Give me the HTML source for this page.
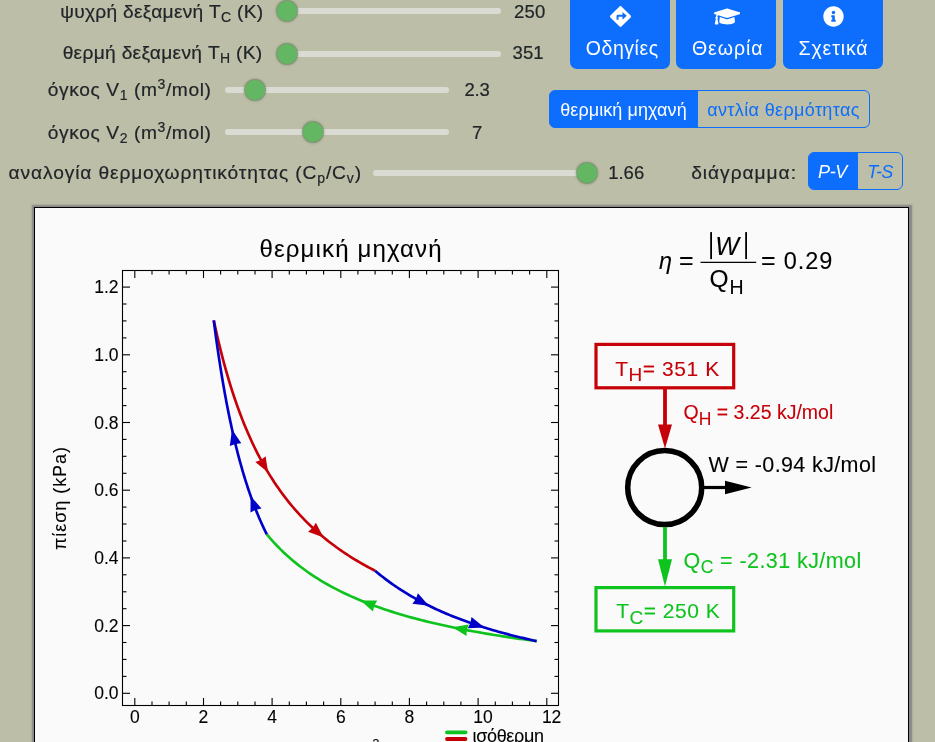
<!DOCTYPE html>
<html><head><meta charset="utf-8">
<style>
html,body{margin:0;padding:0;}
body{width:935px;height:742px;overflow:hidden;background:#bcbea7;font-family:"Liberation Sans",sans-serif;color:#212529;position:relative;}
.lbl{position:absolute;font-size:19.2px;line-height:24px;white-space:nowrap;text-align:right;}
.lbl sub{font-size:14px;vertical-align:baseline;position:relative;top:4px;}
.lbl sup{font-size:14px;vertical-align:baseline;position:relative;top:-7px;}
.lbl,.val{-webkit-text-stroke:0.2px #212529;}
.val{position:absolute;font-size:18.5px;line-height:24px;white-space:nowrap;}
.track{position:absolute;height:6px;border-radius:3px;background:#dadcd3;}
.thumb{position:absolute;width:20px;height:20px;border-radius:50%;background:#64b762;box-shadow:0 0 0 1px rgba(105,140,98,.6),0 0 2px 1.5px rgba(100,115,90,.35);}
.btn{position:absolute;background:#0d6efd;color:#fff;border-radius:7px;text-align:center;font-size:19.5px;}
.btn span{position:absolute;left:0;right:0;top:47.5px;line-height:24px;white-space:nowrap;}
.btn svg{position:absolute;}
.tg{position:absolute;box-sizing:border-box;border:1px solid #0d6efd;font-size:18px;text-align:center;white-space:nowrap;}
.tg.on{background:#0d6efd;color:#fff;}
.tg.off{color:#0d6efd;background:transparent;}
#cv{position:absolute;left:34px;top:207px;width:873px;height:560px;background:#fafafa;border:1px solid #000;box-shadow:.5px .5px 0 2.1px #898987,.5px .5px 2px 2.7px rgba(134,134,132,.8);}
svg text{font-family:"Liberation Sans",sans-serif;stroke-width:.1px;}
svg text[fill="#000"],svg g[fill="#000"] text{stroke:#000;}
svg text[fill="#c60008"]{stroke:#c60008;}
svg text[fill="#0fc31e"]{stroke:#0fc31e;}
#wrap{position:absolute;left:0;top:0;width:935px;height:742px;will-change:transform;}
</style></head><body><div id="wrap">
<div class="lbl" style="right:671.5px;top:-0.5px;letter-spacing:0.27px;">ψυχρή δεξαμενή T<sub>C</sub> (K)</div><div class="track" style="left:277px;top:8px;width:224px;"></div><div class="thumb" style="left:277.2px;top:1px;"></div><div class="val" style="left:514px;top:0px;letter-spacing:0.2px;">250</div><div class="lbl" style="right:672.5px;top:41px;letter-spacing:0.3px;">θερμή δεξαμενή T<sub>H</sub> (K)</div><div class="track" style="left:277px;top:50.5px;width:224px;"></div><div class="thumb" style="left:277.2px;top:43.5px;"></div><div class="val" style="left:512.6px;top:41px;letter-spacing:0.0px;">351</div><div class="lbl" style="right:723.5px;top:78px;letter-spacing:0.59px;">όγκος V<sub>1</sub> (m<sup>3</sup>/mol)</div><div class="track" style="left:224.5px;top:87px;width:224.0px;"></div><div class="thumb" style="left:245px;top:80px;"></div><div class="val" style="left:464.6px;top:78px;letter-spacing:-0.3px;">2.3</div><div class="lbl" style="right:723.5px;top:120.5px;letter-spacing:0.59px;">όγκος V<sub>2</sub> (m<sup>3</sup>/mol)</div><div class="track" style="left:224.5px;top:129px;width:224.0px;"></div><div class="thumb" style="left:303px;top:122px;"></div><div class="val" style="left:472px;top:120.5px;letter-spacing:0.0px;">7</div><div class="lbl" style="right:573px;top:160.5px;letter-spacing:0.87px;">αναλογία θερμοχωρητικότητας (C<sub>p</sub>/C<sub>v</sub>)</div><div class="track" style="left:373px;top:169.7px;width:225px;"></div><div class="thumb" style="left:576.5px;top:162.7px;"></div><div class="val" style="left:608.2px;top:160.5px;letter-spacing:0.0px;">1.66</div><div class="val" style="left:691.2px;top:160.5px;font-size:19.2px;letter-spacing:0.96px;">διάγραμμα:</div>

<div class="btn" style="left:570px;top:-12px;width:100px;height:81px;">
 <svg style="left:39.9px;top:18.1px" width="21" height="21" viewBox="0 0 512 512"><path fill="#fff" d="M502.610 233.320L278.680 9.390c-12.520-12.520-32.830-12.520-45.360 0L9.390 233.320c-12.520 12.530-12.520 32.830 0 45.360l223.930 223.930c12.520 12.530 32.830 12.530 45.360 0l223.930-223.930c12.520-12.530 12.520-32.830 0-45.360zm-100.980 12.560l-84.210 77.730c-5.120 4.730-13.430 1.100-13.430-5.880V264h-96v64c0 4.420-3.580 8-8 8h-32c-4.420 0-8-3.580-8-8v-80c0-17.670 14.330-32 32-32h112v-53.730c0-6.970 8.300-10.610 13.430-5.880l84.210 77.730c3.430 3.170 3.430 8.590 0 11.760z"/></svg>
 <span style="letter-spacing:0.55px;padding-left:4.5px">Οδηγίες</span></div>
<div class="btn" style="left:676px;top:-12px;width:100px;height:81px;">
 <svg style="left:37.6px;top:18.1px" width="26.25" height="21" viewBox="0 0 640 512"><path fill="#fff" d="M622.340 153.200L343.400 67.500c-15.200-4.670-31.590-4.670-46.790 0L17.660 153.200c-23.540 7.230-23.540 38.360 0 45.590l48.630 14.940c-10.670 13.190-17.230 29.280-17.880 46.900C38.780 266.150 32 276.110 32 288c0 10.780 5.680 19.850 13.860 25.650L20.330 428.530C18.110 438.520 25.710 448 35.940 448h56.110c10.240 0 17.840-9.480 15.620-19.470L82.140 313.650C90.320 307.850 96 298.780 96 288c0-11.570-6.470-21.250-15.660-26.870.76-15.020 8.440-28.300 20.690-36.720L296.600 284.500c9.060 2.780 26.440 6.250 46.790 0l278.950-85.700c23.550-7.240 23.550-38.360 0-45.600zM352.790 315.090c-28.530 8.760-52.840 3.920-65.590 0l-145.020-44.550L128 384c0 35.350 85.960 64 192 64s192-28.650 192-64l-14.180-113.470-145.030 44.560z"/></svg>
 <span style="letter-spacing:0.95px;padding-left:3.5px">Θεωρία</span></div>
<div class="btn" style="left:783px;top:-12px;width:100px;height:81px;">
 <svg style="left:39.5px;top:17.9px" width="21" height="21" viewBox="0 0 512 512"><path fill="#fff" d="M256 8C119.043 8 8 119.083 8 256c0 136.997 111.043 248 248 248s248-111.003 248-248C504 119.083 392.957 8 256 8zm0 110c23.196 0 42 18.804 42 42s-18.804 42-42 42-42-18.804-42-42 18.804-42 42-42zm56 254c0 6.627-5.373 12-12 12h-88c-6.627 0-12-5.373-12-12v-24c0-6.627 5.373-12 12-12h12v-64h-12c-6.627 0-12-5.373-12-12v-24c0-6.627 5.373-12 12-12h64c6.627 0 12 5.373 12 12v100h12c6.627 0 12 5.373 12 12v24z"/></svg>
 <span style="letter-spacing:0.85px;padding-left:1px">Σχετικά</span></div>

<div class="tg on" style="left:549px;top:90px;width:149px;height:38px;line-height:38.5px;border-radius:6px 0 0 6px;letter-spacing:0.08px;">θερμική μηχανή</div>
<div class="tg off" style="left:697px;top:90px;width:173px;height:38px;line-height:38.5px;border-radius:0 6px 6px 0;letter-spacing:0.36px;">αντλία θερμότητας</div>
<div class="tg on" style="left:808px;top:152px;width:50px;height:38px;line-height:39.5px;border-radius:6px 0 0 6px;font-style:italic;text-indent:-1px;letter-spacing:-0.3px;">P-V</div>
<div class="tg off" style="left:857px;top:152px;width:46px;height:38px;line-height:39.5px;border-radius:0 6px 6px 0;font-style:italic;letter-spacing:-0.6px;">T-S</div>

<div id="cv"></div>
<svg style="position:absolute;left:0;top:0;" width="935" height="742" viewBox="0 0 935 742">
 <rect x="122.5" y="270.5" width="436.0" height="435.0" fill="none" stroke="#000" stroke-width="1.1"/>
 <g stroke="#000" stroke-width="1.1"><line x1="122.5" x2="130.0" y1="693.3" y2="693.3"/><line x1="551.0" x2="558.5" y1="693.3" y2="693.3"/><line x1="122.5" x2="126.5" y1="676.4" y2="676.4"/><line x1="554.5" x2="558.5" y1="676.4" y2="676.4"/><line x1="122.5" x2="126.5" y1="659.4" y2="659.4"/><line x1="554.5" x2="558.5" y1="659.4" y2="659.4"/><line x1="122.5" x2="126.5" y1="642.5" y2="642.5"/><line x1="554.5" x2="558.5" y1="642.5" y2="642.5"/><line x1="122.5" x2="130.0" y1="625.6" y2="625.6"/><line x1="551.0" x2="558.5" y1="625.6" y2="625.6"/><line x1="122.5" x2="126.5" y1="608.7" y2="608.7"/><line x1="554.5" x2="558.5" y1="608.7" y2="608.7"/><line x1="122.5" x2="126.5" y1="591.8" y2="591.8"/><line x1="554.5" x2="558.5" y1="591.8" y2="591.8"/><line x1="122.5" x2="126.5" y1="574.8" y2="574.8"/><line x1="554.5" x2="558.5" y1="574.8" y2="574.8"/><line x1="122.5" x2="130.0" y1="557.9" y2="557.9"/><line x1="551.0" x2="558.5" y1="557.9" y2="557.9"/><line x1="122.5" x2="126.5" y1="541.0" y2="541.0"/><line x1="554.5" x2="558.5" y1="541.0" y2="541.0"/><line x1="122.5" x2="126.5" y1="524.0" y2="524.0"/><line x1="554.5" x2="558.5" y1="524.0" y2="524.0"/><line x1="122.5" x2="126.5" y1="507.1" y2="507.1"/><line x1="554.5" x2="558.5" y1="507.1" y2="507.1"/><line x1="122.5" x2="130.0" y1="490.2" y2="490.2"/><line x1="551.0" x2="558.5" y1="490.2" y2="490.2"/><line x1="122.5" x2="126.5" y1="473.3" y2="473.3"/><line x1="554.5" x2="558.5" y1="473.3" y2="473.3"/><line x1="122.5" x2="126.5" y1="456.3" y2="456.3"/><line x1="554.5" x2="558.5" y1="456.3" y2="456.3"/><line x1="122.5" x2="126.5" y1="439.4" y2="439.4"/><line x1="554.5" x2="558.5" y1="439.4" y2="439.4"/><line x1="122.5" x2="130.0" y1="422.5" y2="422.5"/><line x1="551.0" x2="558.5" y1="422.5" y2="422.5"/><line x1="122.5" x2="126.5" y1="405.6" y2="405.6"/><line x1="554.5" x2="558.5" y1="405.6" y2="405.6"/><line x1="122.5" x2="126.5" y1="388.6" y2="388.6"/><line x1="554.5" x2="558.5" y1="388.6" y2="388.6"/><line x1="122.5" x2="126.5" y1="371.7" y2="371.7"/><line x1="554.5" x2="558.5" y1="371.7" y2="371.7"/><line x1="122.5" x2="130.0" y1="354.8" y2="354.8"/><line x1="551.0" x2="558.5" y1="354.8" y2="354.8"/><line x1="122.5" x2="126.5" y1="337.9" y2="337.9"/><line x1="554.5" x2="558.5" y1="337.9" y2="337.9"/><line x1="122.5" x2="126.5" y1="320.9" y2="320.9"/><line x1="554.5" x2="558.5" y1="320.9" y2="320.9"/><line x1="122.5" x2="126.5" y1="304.0" y2="304.0"/><line x1="554.5" x2="558.5" y1="304.0" y2="304.0"/><line x1="122.5" x2="130.0" y1="287.1" y2="287.1"/><line x1="551.0" x2="558.5" y1="287.1" y2="287.1"/><line x1="134.8" x2="134.8" y1="698.0" y2="705.5"/><line x1="134.8" x2="134.8" y1="270.5" y2="278.0"/><line x1="152.0" x2="152.0" y1="701.5" y2="705.5"/><line x1="152.0" x2="152.0" y1="270.5" y2="274.5"/><line x1="169.1" x2="169.1" y1="701.5" y2="705.5"/><line x1="169.1" x2="169.1" y1="270.5" y2="274.5"/><line x1="186.3" x2="186.3" y1="701.5" y2="705.5"/><line x1="186.3" x2="186.3" y1="270.5" y2="274.5"/><line x1="203.5" x2="203.5" y1="698.0" y2="705.5"/><line x1="203.5" x2="203.5" y1="270.5" y2="278.0"/><line x1="220.6" x2="220.6" y1="701.5" y2="705.5"/><line x1="220.6" x2="220.6" y1="270.5" y2="274.5"/><line x1="237.8" x2="237.8" y1="701.5" y2="705.5"/><line x1="237.8" x2="237.8" y1="270.5" y2="274.5"/><line x1="255.0" x2="255.0" y1="701.5" y2="705.5"/><line x1="255.0" x2="255.0" y1="270.5" y2="274.5"/><line x1="272.1" x2="272.1" y1="698.0" y2="705.5"/><line x1="272.1" x2="272.1" y1="270.5" y2="278.0"/><line x1="289.3" x2="289.3" y1="701.5" y2="705.5"/><line x1="289.3" x2="289.3" y1="270.5" y2="274.5"/><line x1="306.4" x2="306.4" y1="701.5" y2="705.5"/><line x1="306.4" x2="306.4" y1="270.5" y2="274.5"/><line x1="323.6" x2="323.6" y1="701.5" y2="705.5"/><line x1="323.6" x2="323.6" y1="270.5" y2="274.5"/><line x1="340.8" x2="340.8" y1="698.0" y2="705.5"/><line x1="340.8" x2="340.8" y1="270.5" y2="278.0"/><line x1="357.9" x2="357.9" y1="701.5" y2="705.5"/><line x1="357.9" x2="357.9" y1="270.5" y2="274.5"/><line x1="375.1" x2="375.1" y1="701.5" y2="705.5"/><line x1="375.1" x2="375.1" y1="270.5" y2="274.5"/><line x1="392.3" x2="392.3" y1="701.5" y2="705.5"/><line x1="392.3" x2="392.3" y1="270.5" y2="274.5"/><line x1="409.4" x2="409.4" y1="698.0" y2="705.5"/><line x1="409.4" x2="409.4" y1="270.5" y2="278.0"/><line x1="426.6" x2="426.6" y1="701.5" y2="705.5"/><line x1="426.6" x2="426.6" y1="270.5" y2="274.5"/><line x1="443.8" x2="443.8" y1="701.5" y2="705.5"/><line x1="443.8" x2="443.8" y1="270.5" y2="274.5"/><line x1="460.9" x2="460.9" y1="701.5" y2="705.5"/><line x1="460.9" x2="460.9" y1="270.5" y2="274.5"/><line x1="478.1" x2="478.1" y1="698.0" y2="705.5"/><line x1="478.1" x2="478.1" y1="270.5" y2="278.0"/><line x1="495.3" x2="495.3" y1="701.5" y2="705.5"/><line x1="495.3" x2="495.3" y1="270.5" y2="274.5"/><line x1="512.4" x2="512.4" y1="701.5" y2="705.5"/><line x1="512.4" x2="512.4" y1="270.5" y2="274.5"/><line x1="529.6" x2="529.6" y1="701.5" y2="705.5"/><line x1="529.6" x2="529.6" y1="270.5" y2="274.5"/><line x1="546.8" x2="546.8" y1="698.0" y2="705.5"/><line x1="546.8" x2="546.8" y1="270.5" y2="278.0"/></g>
 <g font-size="17.5" fill="#000"><text x="118.6" y="699.4" text-anchor="end">0.0</text><text x="118.6" y="631.7" text-anchor="end">0.2</text><text x="118.6" y="564.0" text-anchor="end">0.4</text><text x="118.6" y="496.3" text-anchor="end">0.6</text><text x="118.6" y="428.6" text-anchor="end">0.8</text><text x="118.6" y="360.9" text-anchor="end">1.0</text><text x="118.6" y="293.2" text-anchor="end">1.2</text><text x="129.9" y="723" text-anchor="start">0</text><text x="198.6" y="723" text-anchor="start">2</text><text x="267.2" y="723" text-anchor="start">4</text><text x="335.9" y="723" text-anchor="start">6</text><text x="404.5" y="723" text-anchor="start">8</text><text x="473.2" y="723" text-anchor="start">10</text><text x="541.9" y="723" text-anchor="start">12</text></g>
 <text x="259.5" y="256.800" font-size="24" textLength="182" lengthAdjust="spacing" fill="#000">θερμική μηχανή</text>
 <text transform="translate(65.5,550) rotate(-90)" font-size="18" textLength="103" lengthAdjust="spacing" fill="#000">πίεση (kPa)</text>
 <path d="M536.64,641.11 L533.27,640.66 L529.90,640.22 L526.52,639.76 L523.15,639.29 L519.78,638.82 L516.41,638.34 L513.03,637.85 L509.66,637.35 L506.29,636.84 L502.92,636.32 L499.54,635.80 L496.17,635.26 L492.80,634.71 L489.43,634.16 L486.05,633.59 L482.68,633.01 L479.31,632.42 L475.94,631.82 L472.56,631.20 L469.19,630.58 L465.82,629.94 L462.44,629.29 L459.07,628.62 L455.70,627.94 L452.33,627.25 L448.95,626.54 L445.58,625.81 L442.21,625.07 L438.84,624.32 L435.46,623.54 L432.09,622.75 L428.72,621.94 L425.35,621.11 L421.97,620.27 L418.60,619.40 L415.23,618.51 L411.86,617.60 L408.48,616.67 L405.11,615.71 L401.74,614.73 L398.37,613.72 L394.99,612.69 L391.62,611.63 L388.25,610.55 L384.87,609.43 L381.50,608.28 L378.13,607.11 L374.76,605.89 L371.38,604.65 L368.01,603.37 L364.64,602.05 L361.27,600.69 L357.89,599.29 L354.52,597.84 L351.15,596.36 L347.78,594.82 L344.40,593.24 L341.03,591.60 L337.66,589.91 L334.29,588.16 L330.91,586.35 L327.54,584.48 L324.17,582.54 L320.80,580.54 L317.42,578.45 L314.05,576.29 L310.68,574.05 L307.31,571.72 L303.93,569.29 L300.56,566.77 L297.19,564.14 L293.81,561.40 L290.44,558.54 L287.07,555.56 L283.70,552.44 L280.32,549.18 L276.95,545.76 L273.58,542.17 L270.21,538.41 L266.83,534.45" stroke="#0fc31e" fill="none" stroke-width="2.65"/><path d="M213.76,320.36 L215.78,329.65 L217.79,338.49 L219.81,346.91 L221.83,354.93 L223.84,362.60 L225.86,369.92 L227.88,376.93 L229.89,383.64 L231.91,390.07 L233.93,396.24 L235.94,402.16 L237.96,407.86 L239.98,413.33 L242.00,418.60 L244.01,423.67 L246.03,428.56 L248.05,433.27 L250.06,437.82 L252.08,442.22 L254.10,446.46 L256.11,450.57 L258.13,454.54 L260.15,458.38 L262.16,462.10 L264.18,465.70 L266.20,469.20 L268.21,472.58 L270.23,475.87 L272.25,479.06 L274.27,482.16 L276.28,485.17 L278.30,488.09 L280.32,490.94 L282.33,493.71 L284.35,496.40 L286.37,499.02 L288.38,501.57 L290.40,504.05 L292.42,506.48 L294.43,508.84 L296.45,511.14 L298.47,513.38 L300.49,515.57 L302.50,517.71 L304.52,519.80 L306.54,521.83 L308.55,523.82 L310.57,525.77 L312.59,527.67 L314.60,529.53 L316.62,531.34 L318.64,533.12 L320.65,534.86 L322.67,536.56 L324.69,538.22 L326.70,539.85 L328.72,541.45 L330.74,543.01 L332.76,544.54 L334.77,546.05 L336.79,547.52 L338.81,548.96 L340.82,550.37 L342.84,551.76 L344.86,553.11 L346.87,554.45 L348.89,555.76 L350.91,557.04 L352.92,558.30 L354.94,559.54 L356.96,560.75 L358.97,561.94 L360.99,563.11 L363.01,564.27 L365.03,565.40 L367.04,566.51 L369.06,567.60 L371.08,568.67 L373.09,569.73 L375.11,570.76" stroke="#c60008" fill="none" stroke-width="2.65"/><path d="M375.11,570.76 L377.13,572.45 L379.15,574.11 L381.17,575.72 L383.19,577.31 L385.21,578.85 L387.22,580.37 L389.24,581.85 L391.26,583.31 L393.28,584.73 L395.30,586.12 L397.32,587.49 L399.34,588.82 L401.36,590.14 L403.38,591.42 L405.40,592.68 L407.42,593.91 L409.44,595.12 L411.45,596.31 L413.47,597.47 L415.49,598.61 L417.51,599.73 L419.53,600.83 L421.55,601.91 L423.57,602.97 L425.59,604.01 L427.61,605.03 L429.63,606.03 L431.65,607.01 L433.67,607.98 L435.68,608.93 L437.70,609.86 L439.72,610.77 L441.74,611.67 L443.76,612.56 L445.78,613.42 L447.80,614.28 L449.82,615.12 L451.84,615.94 L453.86,616.75 L455.88,617.55 L457.90,618.33 L459.91,619.11 L461.93,619.86 L463.95,620.61 L465.97,621.35 L467.99,622.07 L470.01,622.78 L472.03,623.48 L474.05,624.17 L476.07,624.84 L478.09,625.51 L480.11,626.17 L482.12,626.81 L484.14,627.45 L486.16,628.08 L488.18,628.70 L490.20,629.30 L492.22,629.90 L494.24,630.49 L496.26,631.07 L498.28,631.65 L500.30,632.21 L502.32,632.77 L504.34,633.32 L506.35,633.86 L508.37,634.39 L510.39,634.91 L512.41,635.43 L514.43,635.94 L516.45,636.44 L518.47,636.94 L520.49,637.43 L522.51,637.91 L524.53,638.39 L526.55,638.85 L528.57,639.32 L530.58,639.77 L532.60,640.22 L534.62,640.67 L536.64,641.11" stroke="#0000c8" fill="none" stroke-width="2.65"/><path d="M266.83,534.45 L266.17,533.12 L265.51,531.76 L264.84,530.39 L264.18,529.00 L263.52,527.60 L262.85,526.17 L262.19,524.72 L261.53,523.25 L260.86,521.77 L260.20,520.26 L259.54,518.73 L258.87,517.17 L258.21,515.60 L257.55,514.00 L256.88,512.38 L256.22,510.74 L255.56,509.07 L254.89,507.38 L254.23,505.66 L253.57,503.92 L252.90,502.15 L252.24,500.35 L251.57,498.53 L250.91,496.68 L250.25,494.80 L249.58,492.89 L248.92,490.95 L248.26,488.98 L247.59,486.99 L246.93,484.96 L246.27,482.89 L245.60,480.80 L244.94,478.67 L244.28,476.51 L243.61,474.31 L242.95,472.07 L242.29,469.80 L241.62,467.49 L240.96,465.14 L240.30,462.76 L239.63,460.33 L238.97,457.86 L238.31,455.35 L237.64,452.80 L236.98,450.20 L236.32,447.56 L235.65,444.87 L234.99,442.13 L234.33,439.35 L233.66,436.51 L233.00,433.63 L232.34,430.69 L231.67,427.69 L231.01,424.65 L230.34,421.54 L229.68,418.38 L229.02,415.16 L228.35,411.88 L227.69,408.53 L227.03,405.13 L226.36,401.65 L225.70,398.11 L225.04,394.50 L224.37,390.82 L223.71,387.06 L223.05,383.23 L222.38,379.32 L221.72,375.33 L221.06,371.26 L220.39,367.11 L219.73,362.87 L219.07,358.54 L218.40,354.12 L217.74,349.60 L217.08,344.99 L216.41,340.27 L215.75,335.46 L215.09,330.54 L214.42,325.51 L213.76,320.36" stroke="#0000c8" fill="none" stroke-width="2.65"/><polygon points="268.1,472.6 255.3,462.1 260.9,459.9 265.6,456.3" fill="#c60008"/><polygon points="323.6,537.5 308.1,531.7 312.6,527.8 315.9,522.8" fill="#c60008"/><polygon points="360.6,600.5 377.2,600.6 374.3,605.8 372.9,611.6" fill="#0fc31e"/><polygon points="452.4,627.3 468.7,624.5 466.8,630.2 466.5,636.1" fill="#0fc31e"/><polygon points="428.9,605.8 412.4,603.8 415.9,598.9 417.9,593.3" fill="#0000c8"/><polygon points="484.4,627.6 467.8,628.3 470.4,623.0 471.5,617.1" fill="#0000c8"/><polygon points="250.6,496.0 261.5,508.4 255.7,509.7 250.5,512.5" fill="#0000c8"/><polygon points="232.0,429.6 241.3,443.3 235.4,443.9 229.8,446.0" fill="#0000c8"/>
 <!-- legend peek -->
 <line x1="447" x2="465.5" y1="732.300" y2="732.300" stroke="#0fc31e" stroke-width="3.8" stroke-linecap="round"/>
 <line x1="447" x2="465.5" y1="739" y2="739" stroke="#c60008" stroke-width="3.8" stroke-linecap="round"/>
 <text x="472.5" y="741.7" font-size="18" textLength="71.5" lengthAdjust="spacing" fill="#000">ισόθερμη</text>
 <text x="372.5" y="748.300" font-size="12.5" fill="#000">3</text>

 <!-- formula -->
 <text x="659" y="269" font-size="23.5" font-style="italic" fill="#000">η</text>
 <text x="679" y="269.3" font-size="25" fill="#000">=</text>
 <rect x="710.2" y="232.1" width="1.8" height="27" fill="#000"/>
 <rect x="745.2" y="232.1" width="1.8" height="27" fill="#000"/>
 <text x="715.2" y="255.1" font-size="25.2" font-style="italic" fill="#000">W</text>
 <line x1="700.5" x2="756.2" y1="262.4" y2="262.4" stroke="#000" stroke-width="1.3"/>
 <text x="709.5" y="287" font-size="24.5" fill="#000">Q</text>
 <text x="729.5" y="293.7" font-size="19.5" fill="#000">H</text>
 <text x="761" y="269.3" font-size="25" fill="#000">=</text>
 <text x="783.8" y="269.3" font-size="23.5" textLength="48.5" lengthAdjust="spacing" fill="#000">0.29</text>

 <!-- engine diagram -->
 <rect x="596" y="344.400" width="137.700" height="43.400" fill="none" stroke="#c60008" stroke-width="3.2"/>
 <text x="615.2" y="375.6" font-size="21" letter-spacing="0.55" fill="#c60008">T<tspan dy="5.7" font-size="19">H</tspan><tspan dy="-5.7">= 351 K</tspan></text>
 <line x1="665" x2="665" y1="389" y2="428" stroke="#c60008" stroke-width="3.8"/>
 <polygon points="665,448.500 658,424.500 672,424.500" fill="#c60008"/>
 <text x="683.5" y="419.200" font-size="19.500" fill="#c60008">Q<tspan dy="5.400" font-size="17.500">H</tspan><tspan dy="-5.400"> = 3.25 kJ/mol</tspan></text>
 <circle cx="664.700" cy="487.600" r="37" fill="none" stroke="#000" stroke-width="5.500"/>
 <line x1="702" x2="728" y1="487.500" y2="487.500" stroke="#000" stroke-width="3.2"/>
 <polygon points="751.600,487.500 725,480.800 725,494.200" fill="#000"/>
 <text x="708.5" y="472.100" font-size="21.500" textLength="167.500" lengthAdjust="spacing" fill="#000">W = -0.94 kJ/mol</text>
 <line x1="665" x2="665" y1="527" y2="563" stroke="#0fc31e" stroke-width="3.8"/>
 <polygon points="665,586.500 658,559.300 672,559.300" fill="#0fc31e"/>
 <text x="683.5" y="568.3" font-size="21.5" letter-spacing="0.42" fill="#0fc31e">Q<tspan dy="4.800" font-size="17.500">C</tspan><tspan dy="-4.800"> = -2.31 kJ/mol</tspan></text>
 <rect x="596" y="587.600" width="137.700" height="43.300" fill="none" stroke="#0fc31e" stroke-width="3.2"/>
 <text x="616.2" y="618" font-size="21" letter-spacing="0.5" fill="#0fc31e">T<tspan dy="5.7" font-size="19">C</tspan><tspan dy="-5.7">= 250 K</tspan></text>
</svg>
</div></body></html>
